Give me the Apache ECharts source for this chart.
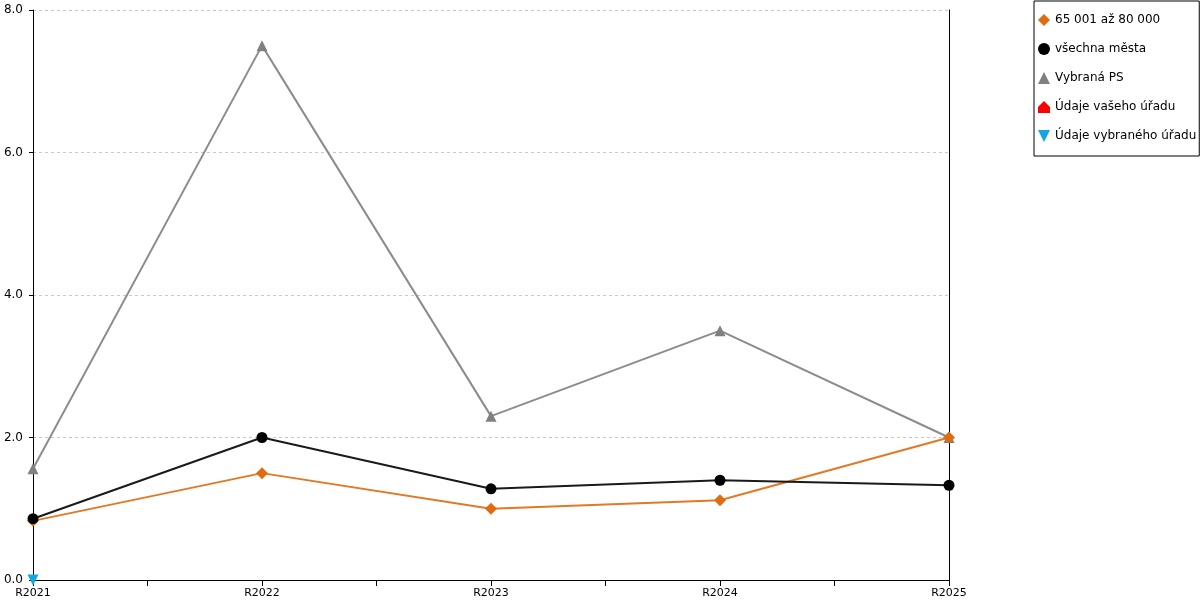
<!DOCTYPE html>
<html>
<head>
<meta charset="utf-8">
<script src="https://cdn.jsdelivr.net/npm/echarts@6/dist/echarts.min.js"></script>
<style>
    html, body { margin: 0; padding: 0; background: #fff; }
    #chart { width: 1200px; height: 600px; }
</style>
</head>
<body>
<div id="chart"></div>
<script>
// data
const years = ['R2021', 'R2022', 'R2023', 'R2024', 'R2025'];
const sizeGroup = [0.83, 1.50, 1.00, 1.12, 2.00];   // 65 001 až 80 000
const allCities = [0.86, 2.00, 1.28, 1.40, 1.33];   // všechna města
const chosenPS = [1.56, 7.50, 2.30, 3.50, 2.00];    // Vybraná PS
const yourOffice = [null, null, null, null, null];  // Údaje vašeho úřadu
const chosenOffice = [0.0, null, null, null, null]; // Údaje vybraného úřadu
const yTicks = [0, 2, 4, 6, 8];

const housePath = 'path://M5,0 L10,5 L10,10 L0,10 L0,5 Z';
const downTriangle = 'path://M0,0 L10,0 L5,10 Z';

function pairs(arr) {
    return arr.map((v, i) => [i, v]);
}

const myChart = echarts.init(document.getElementById('chart'));

const font = 'DejaVu Sans';

const option = {
    animation: false,
    textStyle: { fontFamily: font },
    grid: { left: 33, right: 251, top: 10, bottom: 20 },
    legend: {
        orient: 'vertical',
        left: 1034,
        top: 1,
        padding: [13, 3, 14, 4],
        itemWidth: 12,
        itemHeight: 12,
        itemGap: 17,
        borderColor: '#000',
        borderWidth: 1,
        textStyle: { fontFamily: font, fontSize: 12, color: '#000' },
        data: [
            { name: '65 001 až 80 000', icon: 'diamond' },
            { name: 'všechna města', icon: 'circle' },
            { name: 'Vybraná PS', icon: 'triangle' },
            { name: 'Údaje vašeho úřadu', icon: housePath },
            { name: 'Údaje vybraného úřadu', icon: downTriangle }
        ]
    },
    xAxis: {
        type: 'value',
        min: 0,
        max: years.length - 1,
        interval: 0.5,
        axisLine: { show: true, lineStyle: { color: '#000', width: 1 } },
        axisTick: { show: true, length: 6, lineStyle: { color: '#000' } },
        axisLabel: {
            fontFamily: font, fontSize: 11, color: '#000', margin: 8,
            formatter: v => (Number.isInteger(v) ? years[v] : '')
        },
        splitLine: { show: false }
    },
    yAxis: [
        {
            type: 'value',
            min: yTicks[0],
            max: yTicks[yTicks.length - 1],
            interval: 2,
            axisLine: { show: true, lineStyle: { color: '#000', width: 1 } },
            axisTick: { show: true, length: 4, lineStyle: { color: '#000' } },
            axisLabel: {
                fontFamily: font, fontSize: 12, color: '#000', margin: 10,
                formatter: v => v.toFixed(1)
            },
            splitLine: { show: true, lineStyle: { color: '#c8c8c8', type: [3, 3] } }
        },
        {
            type: 'value',
            position: 'right',
            min: 0,
            max: 8,
            interval: 2,
            axisLine: { show: true, lineStyle: { color: '#000', width: 1 } },
            axisTick: { show: false },
            axisLabel: { show: false },
            splitLine: { show: false }
        }
    ],
    series: [
        {
            name: '65 001 až 80 000',
            type: 'line',
            data: pairs(sizeGroup),
            symbol: 'diamond',
            symbolSize: 12,
            itemStyle: { color: '#e06c12' },
            lineStyle: { color: '#e07a25', width: 2 },
            z: 3
        },
        {
            name: 'všechna města',
            type: 'line',
            data: pairs(allCities),
            symbol: 'circle',
            symbolSize: 11,
            itemStyle: { color: '#000' },
            lineStyle: { color: '#1a1a1a', width: 2 },
            z: 4
        },
        {
            name: 'Vybraná PS',
            type: 'line',
            data: pairs(chosenPS),
            symbol: 'triangle',
            symbolSize: 11,
            itemStyle: { color: '#808080' },
            lineStyle: { color: '#8c8c8c', width: 2 },
            z: 2
        },
        {
            name: 'Údaje vašeho úřadu',
            type: 'line',
            data: pairs(yourOffice),
            symbol: housePath,
            symbolSize: 11,
            itemStyle: { color: '#ff0000' },
            lineStyle: { color: '#ff0000', width: 2 }
        },
        {
            name: 'Údaje vybraného úřadu',
            type: 'line',
            data: pairs(chosenOffice),
            symbol: downTriangle,
            symbolSize: 11,
            itemStyle: { color: '#12a7e0' },
            lineStyle: { color: '#12a7e0', width: 2 },
            z: 5
        }
    ]
};

myChart.setOption(option);
</script>
</body>
</html>
